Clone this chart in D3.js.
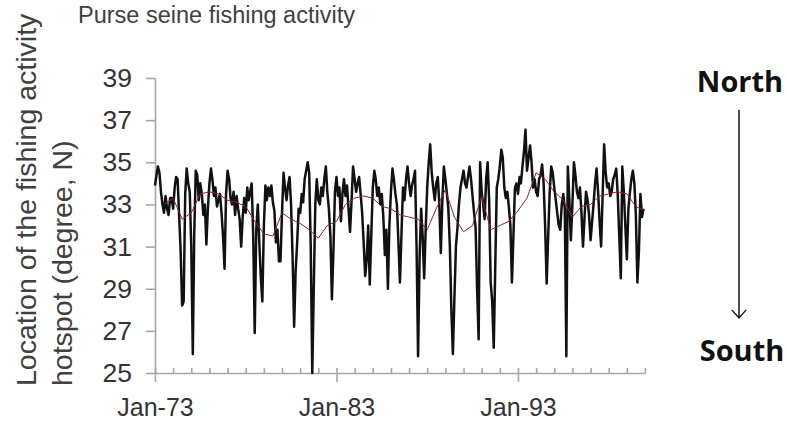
<!DOCTYPE html>
<html>
<head>
<meta charset="utf-8">
<script src="https://cdn.jsdelivr.net/npm/d3@7"></script>
<style>
  html, body { margin: 0; padding: 0; background: #fff; }
  svg { display: block; font-family: "Liberation Sans", Arial, sans-serif; }
  .axis path, .axis line { stroke: #a6a6a6; stroke-width: 1.6; }
  .axis text { fill: #333; }
</style>
</head>
<body>
<div id="chart"></div>
<script>
// Monthly latitude of the purse seine fishing hotspot, Jan 1973 .. Dec 1999
const startYear = 1973;
const hotspotLat = [
  33.9, 34.4, 34.8, 34.5, 33.6, 33.0, 32.6, 33.4, 32.8, 32.5, 33.3,
  33.3, 32.8, 33.8, 34.3, 34.2, 32.5, 30.8, 28.2, 28.4, 33.5, 34.7, 34.0,
  33.6, 31.0, 25.9, 31.5, 34.6, 34.4, 33.2, 34.0, 33.5, 32.5, 33.0, 31.1,
  32.8, 34.0, 34.7, 34.2, 33.4, 33.8, 32.9, 33.2, 33.5, 32.6, 31.5, 29.95,
  33.5, 34.6, 34.2, 33.3, 33.0, 33.6, 32.5, 33.4, 32.8, 32.3, 31.0, 32.4,
  33.3, 32.6, 33.8, 33.2, 33.6, 34.0, 31.5, 26.9, 31.8, 33.0, 31.2, 29.5,
  28.4, 32.0, 33.9, 33.2, 33.8, 33.4, 33.9, 33.1, 32.7, 31.2, 31.8, 30.3,
  30.3, 32.6, 34.5, 33.8, 33.2, 33.9, 34.3, 33.0, 30.5, 27.2, 29.8, 31.2,
  32.8, 32.6, 33.5, 33.1, 34.2, 34.6, 35.0, 34.5, 31.0, 25.0, 29.0, 33.0,
  34.2, 33.2, 33.0, 33.8, 33.4, 34.2, 34.8, 33.6, 32.8, 31.5, 28.5, 30.8,
  33.6, 34.3, 33.4, 33.8, 32.2, 33.5, 34.2, 33.4, 33.9, 32.8, 31.7, 33.2,
  34.8, 34.2, 33.6, 34.0, 34.3, 33.5, 32.6, 31.2, 29.6, 30.4, 32.0, 29.2,
  31.5, 33.8, 34.6, 34.2, 33.4, 33.8, 33.0, 33.5, 32.4, 30.6, 31.8, 29.0,
  32.0, 33.6, 34.7, 34.2, 33.5, 33.0, 31.2, 29.3, 31.6, 33.8, 33.2, 34.2,
  34.8, 34.0, 33.4, 33.9, 34.2, 34.6, 31.0, 25.8, 30.5, 32.8, 31.5, 29.5,
  31.8, 33.8, 35.0, 35.85, 34.5, 33.8, 33.2, 34.0, 34.3, 33.0, 30.7, 33.2,
  34.8, 34.2, 33.5, 32.8, 31.0, 28.0, 25.9, 28.5, 31.0, 31.9, 33.0, 33.8,
  34.2, 34.6, 34.0, 33.8, 34.3, 34.8, 34.2, 33.4, 32.6, 31.9, 29.0, 26.6,
  35.0, 33.6, 33.0, 32.3, 34.2, 35.0, 33.2, 29.3, 28.4, 26.2, 30.0, 33.8,
  34.2, 34.8, 35.6, 35.2, 33.8, 33.3, 33.6, 32.9, 32.0, 29.3, 31.5, 33.8,
  34.0, 33.5, 34.3, 34.0, 34.8, 35.5, 36.55, 34.6, 35.2, 35.8, 35.0, 33.8,
  34.2, 33.6, 33.4, 34.2, 34.4, 34.9, 34.0, 32.0, 29.25, 31.5, 33.6, 34.8,
  34.5, 33.8, 33.2, 32.6, 32.0, 31.8, 33.0, 33.5, 32.8, 25.8, 34.8, 33.2,
  31.3, 33.0, 35.0, 34.4, 33.6, 33.3, 33.8, 32.6, 31.0, 32.4, 33.6, 33.2,
  32.5, 31.3, 32.2, 33.0, 34.0, 34.7, 33.6, 32.2, 31.0, 33.5, 35.85, 34.5,
  33.8, 34.0, 33.4, 33.6, 34.2, 34.4, 34.7, 33.5, 31.5, 29.5, 34.8, 33.6,
  32.0, 30.4, 32.8, 33.5, 34.2, 34.6, 34.0, 32.5, 29.3, 30.8, 33.5, 32.4, 32.8
];

// Smoothed hotspot latitude, one value every 6 months from Jul 1973
const trendStep = 6;
const trendLat = [
  33.0, 33.3, 32.3, 32.6, 33.5, 33.6, 33.5, 33.2, 33.1, 32.9,
  32.2, 31.6, 31.5, 32.6, 32.3, 32.1, 31.8, 31.4, 32.0, 32.2,
  33.0, 33.3, 33.4, 33.3, 32.9, 32.8, 32.5, 32.4, 32.3, 31.8,
  32.8, 33.7, 32.4, 31.7, 32.0, 33.4, 31.8, 32.0, 32.2, 32.7,
  33.3, 34.5, 34.2, 33.6, 33.2, 32.4, 32.9, 33.0, 33.4, 33.5,
  33.6, 33.5, 32.9, 32.7
];

const yTicks = [25, 27, 29, 31, 33, 35, 37, 39];
const xMajorYears = [1973, 1983, 1993];
const endYear = 2000;

const width = 786, height = 423;
const plot = { left: 155, right: 645, top: 78, bottom: 373 };

const svg = d3.select('#chart').append('svg')
  .attr('width', width)
  .attr('height', height);

const x = d3.scaleTime()
  .domain([new Date(startYear, 0, 1), new Date(endYear, 0, 1)])
  .range([plot.left, plot.right]);

const y = d3.scaleLinear()
  .domain([25, 39])
  .range([plot.bottom, plot.top]);

const monthly = hotspotLat.map((v, i) => ({ date: new Date(startYear, i, 1), value: v }));
const trend = trendLat.map((v, i) => ({ date: new Date(startYear, (i + 1) * trendStep, 1), value: v }));

// Axes
const yAxis = svg.append('g')
  .attr('class', 'axis')
  .attr('transform', `translate(${plot.left},0)`)
  .call(d3.axisLeft(y).tickValues(yTicks).tickSize(9).tickPadding(14).tickSizeOuter(0));
yAxis.selectAll('text').style('font-size', '26.5px');

// minor yearly ticks point up into the plot
svg.append('g')
  .attr('class', 'axis')
  .attr('transform', `translate(0,${plot.bottom})`)
  .call(d3.axisBottom(x)
    .tickValues(d3.range(startYear, endYear + 1).map(yr => new Date(yr, 0, 1)))
    .tickSize(-5).tickSizeOuter(0).tickFormat(''));

// major ticks every 10 years, outside, with labels
const xAxis = svg.append('g')
  .attr('class', 'axis')
  .attr('transform', `translate(0,${plot.bottom})`)
  .call(d3.axisBottom(x)
    .tickValues(xMajorYears.map(yr => new Date(yr, 0, 1)))
    .tickSize(9).tickPadding(16).tickSizeOuter(0)
    .tickFormat(d3.timeFormat('Jan-%y')));
xAxis.select('.domain').remove();
xAxis.selectAll('text').style('font-size', '25px');

// Lines
const line = d3.line()
  .x(d => x(d.date))
  .y(d => y(d.value));

svg.append('path')
  .datum(monthly)
  .attr('fill', 'none')
  .attr('stroke', '#111')
  .attr('stroke-width', 2.5)
  .attr('stroke-linejoin', 'round')
  .attr('d', line);

svg.append('path')
  .datum(trend)
  .attr('fill', 'none')
  .attr('stroke', '#8b2231')
  .attr('stroke-width', 1)
  .attr('d', line);

// Titles
svg.append('text')
  .attr('x', 78)
  .attr('y', 23)
  .attr('fill', '#404040')
  .style('font-size', '23.5px')
  .text('Purse seine fishing activity');

const yTitle = svg.append('text')
  .attr('transform', 'translate(36,386) rotate(-90)')
  .attr('fill', '#404040')
  .style('font-size', '28.5px');
yTitle.append('tspan').attr('x', 0).attr('y', 0).text('Location of the fishing activity');
yTitle.append('tspan').attr('x', 0).attr('y', 36).text('hotspot (degree, N)');

// North / South arrow
svg.append('defs').append('marker')
  .attr('id', 'vhead')
  .attr('viewBox', '-10 -10 20 20')
  .attr('markerWidth', 18).attr('markerHeight', 18)
  .attr('markerUnits', 'userSpaceOnUse')
  .attr('orient', 'auto')
  .append('path')
  .attr('d', 'M-9,-8 L0,0 L-9,8')
  .attr('fill', 'none')
  .attr('stroke', '#111')
  .attr('stroke-width', 1.5);

svg.append('line')
  .attr('x1', 739).attr('y1', 110)
  .attr('x2', 739).attr('y2', 318)
  .attr('stroke', '#111')
  .attr('stroke-width', 1.5)
  .attr('marker-end', 'url(#vhead)');

svg.append('text')
  .attr('x', 740).attr('y', 92)
  .attr('text-anchor', 'middle')
  .attr('fill', '#111')
  .style('font-family', '"Open Sans", sans-serif')
  .style('font-weight', 'bold')
  .style('font-size', '29px')
  .text('North');

svg.append('text')
  .attr('x', 742).attr('y', 361)
  .attr('text-anchor', 'middle')
  .attr('fill', '#111')
  .style('font-family', '"Open Sans", sans-serif')
  .style('font-weight', 'bold')
  .style('font-size', '29px')
  .text('South');
</script>
</body>
</html>
